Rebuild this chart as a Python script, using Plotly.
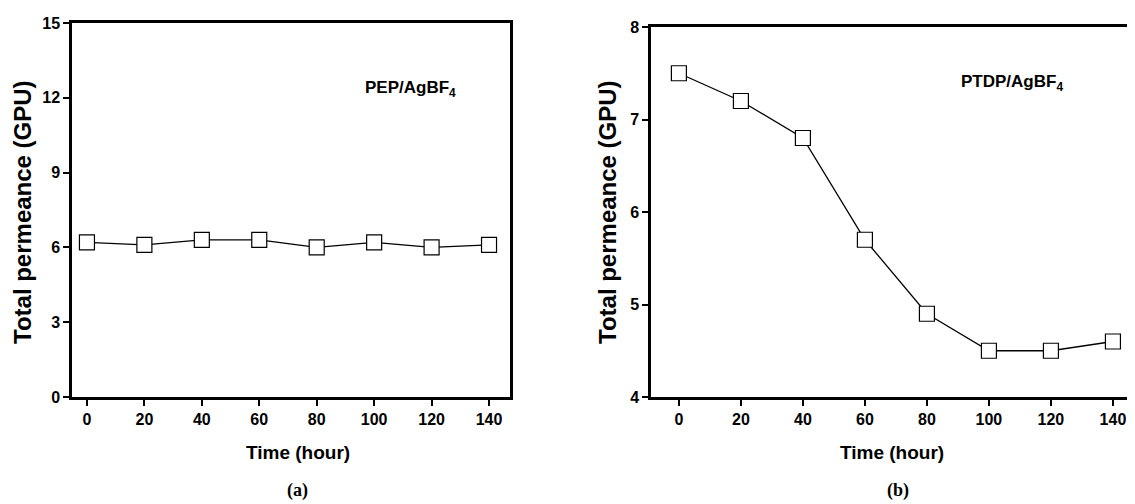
import plotly.graph_objects as go

# Data
time_hours = [0, 20, 40, 60, 80, 100, 120, 140]
pep_permeance = [6.2, 6.1, 6.3, 6.3, 6.0, 6.2, 6.0, 6.1]
ptdp_permeance = [7.5, 7.2, 6.8, 5.7, 4.9, 4.5, 4.5, 4.6]
x_ticks = [0, 20, 40, 60, 80, 100, 120, 140]
y_ticks_a = [0, 3, 6, 9, 12, 15]
y_ticks_b = [4, 5, 6, 7, 8]
label_a = "PEP/AgBF<sub>4</sub>"
label_b = "PTDP/AgBF<sub>4</sub>"
x_title = "Time (hour)"
y_title = "Total permeance (GPU)"

W, H = 1135, 504
OFF = 8  # page body margin offset

def px(x):
    return (x - OFF) / W

def py(y):
    return 1 - (y - OFF) / H

fig = go.Figure()

mk = dict(symbol="square", size=15, color="white", line=dict(color="black", width=1.2))
fig.add_trace(go.Scatter(x=time_hours, y=pep_permeance, mode="lines+markers",
                         line=dict(color="black", width=1.3), marker=mk,
                         xaxis="x", yaxis="y", showlegend=False, cliponaxis=False))
fig.add_trace(go.Scatter(x=time_hours, y=ptdp_permeance, mode="lines+markers",
                         line=dict(color="black", width=1.3), marker=mk,
                         xaxis="x2", yaxis="y2", showlegend=False, cliponaxis=False))

tickfont = dict(family="Liberation Sans", size=16, color="black", weight="bold")
axis_common = dict(showgrid=False, zeroline=False, showline=True, linecolor="black",
                   linewidth=2.5, ticks="outside", ticklen=6, tickwidth=2,
                   tickcolor="black", tickfont=tickfont, automargin=False)

fig.update_layout(
    template="none",
    width=W, height=H,
    margin=dict(l=0, r=0, t=0, b=0),
    paper_bgcolor="white", plot_bgcolor="white",
    xaxis=dict(domain=[px(72), px(510)], range=[-5.2, 147.3], tickvals=x_ticks,
               anchor="y", mirror=True, **axis_common),
    yaxis=dict(domain=[py(397), py(23)], range=[0, 15], tickvals=y_ticks_a,
               anchor="x", mirror=True, **axis_common),
    xaxis2=dict(domain=[px(651), 1.0], range=[-9.0, 149.7], tickvals=x_ticks,
                anchor="y2", mirror=True, **axis_common),
    yaxis2=dict(domain=[py(397), py(27)], range=[4, 8], tickvals=y_ticks_b,
                anchor="x2", **axis_common),
)

xtitle_font = dict(family="Liberation Sans", size=19, color="black", weight="bold")
ytitle_font = dict(family="Liberation Sans", size=24, color="black", weight="bold")
panel_font = dict(family="Liberation Serif", size=18, color="black", weight="bold")
label_font = dict(family="Liberation Sans", size=17, color="black", weight="bold")

ann = [
    dict(text=x_title, x=px(298), y=py(452), font=xtitle_font),
    dict(text=x_title, x=px(892), y=py(452), font=xtitle_font),
    dict(text=y_title, x=px(22), y=py(212), font=ytitle_font, textangle=-90),
    dict(text=y_title, x=px(607), y=py(212), font=ytitle_font, textangle=-90),
    dict(text="(a)", x=px(297), y=py(490), font=panel_font),
    dict(text="(b)", x=px(898), y=py(490), font=panel_font),
    dict(text=label_a, x=px(410), y=py(89), font=label_font),
    dict(text=label_b, x=px(1012), y=py(83), font=label_font),
]
for a in ann:
    fig.add_annotation(xref="paper", yref="paper", showarrow=False,
                       xanchor="center", yanchor="middle", **a)

fig.write_html("out.html")
